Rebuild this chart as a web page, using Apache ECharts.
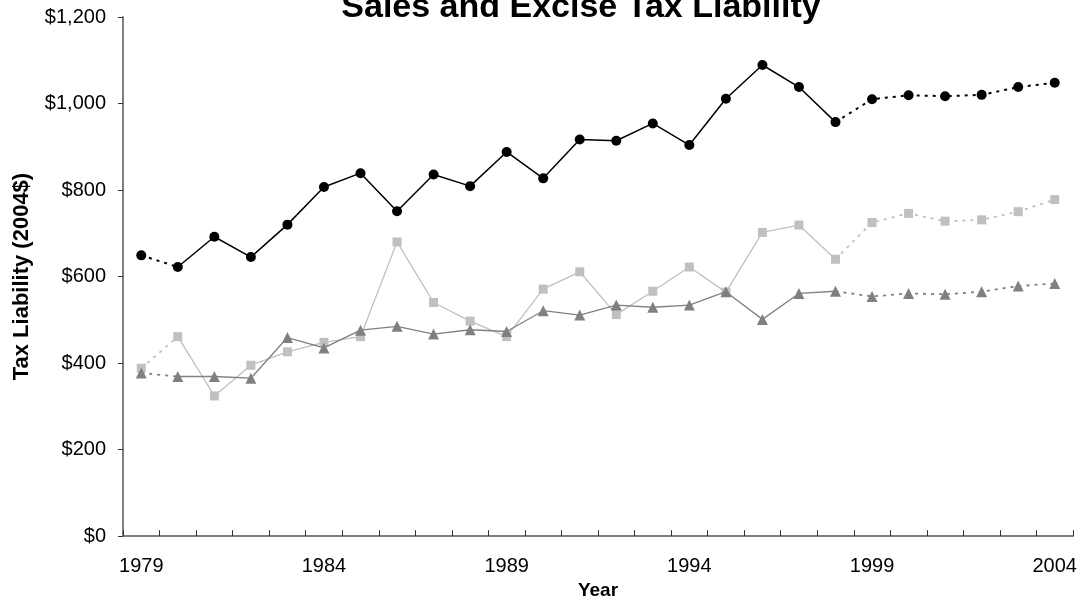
<!DOCTYPE html>
<html>
<head>
<meta charset="utf-8">
<script src="https://cdn.jsdelivr.net/npm/echarts@6/dist/echarts.min.js"></script>
<style>
html,body{margin:0;padding:0;background:#fff;}
#chart{width:1082px;height:605px;}
</style>
</head>
<body>
<div id="chart"></div>
<script>
const years = ['1979','1980','1981','1982','1983','1984','1985','1986','1987','1988','1989','1990','1991','1992','1993','1994','1995','1996','1997','1998','1999','2000','2001','2002','2003','2004'];
const blackCircles = [649,622,692,645,720,807,839,751,836,809,888,827,917,914,954,904,1011,1089,1038,957,1010,1019,1017,1020,1038,1048];
const greySquares = [388,461,324,395,426,448,461,680,540,497,461,571,611,512,566,622,564,702,719,640,725,746,728,731,750,778];
const darkTriangles = [377,369,369,365,459,435,476,485,467,477,473,521,511,534,529,534,565,501,561,566,554,561,559,565,578,584];
const yTicks = [0,200,400,600,800,1000,1200];

// solid segment: 1980..1998, dotted: 1979-1980 and 1998-2004
const solidStart = 1, solidEnd = 19;
function solidPart(arr){ return arr.map((v,i)=> (i>=solidStart && i<=solidEnd) ? v : null); }
function dottedPart(arr){ return arr.map((v,i)=> (i<=solidStart || i>=solidEnd) ? v : null); }

const font = 'Liberation Sans, Arial, sans-serif';
function makeSeries(name, arr, color, symbol, size, width, z){
  return [
    {name:name, type:'line', data:solidPart(arr), showSymbol:false, symbol:'none', z:z,
     lineStyle:{color:color, width:width, type:'solid'}, connectNulls:false, animation:false, silent:true},
    {name:name, type:'line', data:dottedPart(arr), showSymbol:false, symbol:'none', z:z,
     lineStyle:{color:color, width:width+0.5, type:[3,5]}, connectNulls:false, animation:false, silent:true},
    {name:name, type:'line', data:arr, symbol:symbol, symbolSize:size, showSymbol:true, z:z+1,
     itemStyle:{color:color, borderWidth:0}, lineStyle:{opacity:0}, animation:false, silent:true}
  ];
}

const chart = echarts.init(document.getElementById('chart'));
chart.setOption({
  backgroundColor:'#fff',
  animation:false,
  title:{text:'Sales and Excise Tax Liability', left:576, textAlign:'center', top:-14,
    textStyle:{fontFamily:font, fontSize:34, lineHeight:34, fontWeight:'bold', color:'#000'}},
  grid:{left:123, right:9, top:17, bottom:68},
  xAxis:{type:'category', data:years, boundaryGap:true,
    name:'Year', nameLocation:'middle', nameGap:44,
    nameTextStyle:{fontFamily:font, fontSize:19, fontWeight:'bold', color:'#000'},
    axisLine:{lineStyle:{color:'#808080', width:2}},
    axisTick:{show:true, inside:true, length:6, interval:0, lineStyle:{color:'#333', width:1}},
    axisLabel:{interval:4, fontFamily:font, fontSize:20, color:'#000', margin:20},
    splitLine:{show:false}},
  yAxis:{type:'value', min:0, max:1200, interval:200,
    name:'Tax Liability (2004$)', nameLocation:'middle', nameGap:90, nameRotate:90,
    nameTextStyle:{fontFamily:font, fontSize:22, fontWeight:'bold', color:'#000'},
    axisLine:{show:true, lineStyle:{color:'#808080', width:2}},
    axisTick:{show:true, inside:false, length:5, lineStyle:{color:'#333', width:1}},
    axisLabel:{fontFamily:font, fontSize:20, color:'#000', margin:17,
      formatter:v=>'$'+v.toLocaleString('en-US')},
    splitLine:{show:false}},
  series:[].concat(
    makeSeries('Light grey', greySquares, '#C0C0C0', 'rect', 9, 1.3, 2),
    makeSeries('Dark grey', darkTriangles, '#808080', 'triangle', 11, 1.3, 4),
    makeSeries('Black', blackCircles, '#000000', 'circle', 10, 1.5, 6)
  )
});
</script>
</body>
</html>
